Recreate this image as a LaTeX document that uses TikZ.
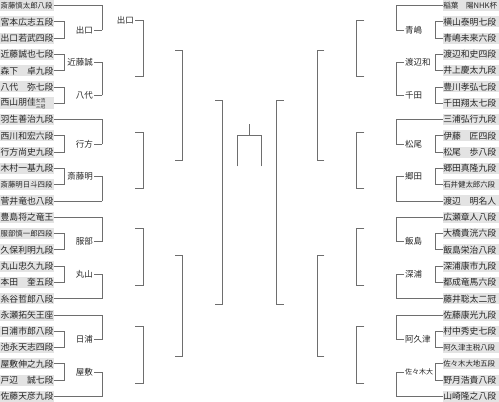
\documentclass[tikz,border=0pt]{standalone}
\usepackage{fontspec}
\setmainfont{Noto Sans CJK JP}
\usepackage{tikz}
\definecolor{plategray}{HTML}{E3E3E3}
\definecolor{linegray}{HTML}{6E6E6E}
\newcommand\twoline[2]{{\fontsize{4.8}{4.8}\selectfont
  \makebox[0pt][l]{\raisebox{3.5pt}{#1}}\raisebox{-2.6pt}{#2}}}

\tikzset{
  namebox/.style={fill=plategray, inner xsep=0.5pt, inner ysep=0.5pt,
    minimum height=11pt, align=left, text=black!85},
  wlabel/.style={inner sep=1pt, font=\fontsize{8.5}{8.5}\selectfont, text=black!85},
  bracket/.style={draw=linegray, line width=0.8pt, line cap=rect},
}

\begin{document}
\begin{tikzpicture}[x=1pt,y=-1pt,
  declare function={ry(\i)=5.5+16.29*(\i-1);}]
\useasboundingbox (0,0) rectangle (499,402);

% column positions
\coordinate (c1) at (64,0);
\coordinate (c2) at (102,0);
\coordinate (d1) at (435,0);
\coordinate (d2) at (396,0);

%-------------------------------------------------------------------
% Left half
\foreach \i/\nm/\sz in {1/斎藤慎太郎八段/7.4,2/宮本広志五段/8.8,3/出口若武四段/8.8,
  4/近藤誠也七段/8.8,5/森下　卓九段/8.8,6/八代　弥七段/8.8,7/西山朋佳\twoline{女流}{三冠}/8.8,
  8/羽生善治九段/8.8,9/西川和宏六段/8.8,10/行方尚史九段/8.8,11/木村一基九段/8.8,
  12/斎藤明日斗四段/7.4,13/菅井竜也八段/8.8,14/豊島将之竜王/8.8,15/服部慎一郎四段/7.4,
  16/久保利明九段/8.8,17/丸山忠久九段/8.8,18/本田　奎五段/8.8,19/糸谷哲郎八段/8.8,
  20/永瀬拓矢王座/8.8,21/日浦市郎八段/8.8,22/池永天志四段/8.8,23/屋敷伸之九段/8.8,
  24/戸辺　誠七段/8.8,25/佐藤天彦九段/8.8}{
  \node[namebox,text width=53pt,anchor=west,font=\fontsize{\sz}{\sz}\selectfont]
    (L\i) at (0,{ry(\i)}) {\nm};
}

% Byes straight to round 2
\foreach \i in {1,8,13,14,19,20,25}
  \draw[bracket] (L\i.east) -- (L\i.east -| c2);

% Round 1
\foreach \a/\b/\w in {2/3/出口,4/5/近藤誠,6/7/八代,9/10/行方,11/12/斎藤明,
  15/16/服部,17/18/丸山,21/22/日浦,23/24/屋敷}{
  \draw[bracket] (L\a.east) -- (L\a.east -| c1) -- (L\b.east -| c1) -- (L\b.east);
  \node[wlabel,anchor=east] (wl\a) at (94,{(ry(\a)+ry(\b))/2}) {\w};
  \draw[bracket] (wl\a.east) -- (wl\a.east -| c2);
}

% Round 2
\foreach \p/\q in {L1/wl2,wl4/wl6,L8/wl9,wl11/L13,L14/wl15,wl17/L19,L20/wl21,wl23/L25}
  \draw[bracket] (\p.east -| c2) -- (\q.east -| c2);
\node[wlabel,anchor=east] (wl1) at (135,20.7) {出口};
\draw[bracket] (wl1.east) -- (143,20.7);

% Round 3, 4, 5
\foreach \t/\u in {20.7/76.3,132/188.5,228/285,326.5/383.3}
  \draw[bracket] (135,\t) -- (143,\t) -- (143,\u) -- (135,\u);
\foreach \t/\u in {50/160,255.7/356}
  \draw[bracket] (175,\t) -- (182,\t) -- (182,\u) -- (175,\u);
\draw[bracket] (215.7,100) -- (222.7,100) -- (222.7,304) -- (215.7,304);

%-------------------------------------------------------------------
% Right half
\foreach \i/\nm/\sz in {1/稲葉　陽NHK杯/7.6,2/横山泰明七段/8.8,3/青嶋未来六段/8.8,
  4/渡辺和史四段/8.8,5/井上慶太九段/8.8,6/豊川孝弘七段/8.8,7/千田翔太七段/8.8,
  8/三浦弘行九段/8.8,9/伊藤　匠四段/8.8,10/松尾　歩八段/8.8,11/郷田真隆九段/8.8,
  12/石井健太郎六段/7.4,13/渡辺　明名人/8.8,14/広瀬章人八段/8.8,15/大橋貴洸六段/8.8,
  16/飯島栄治八段/8.8,17/深浦康市九段/8.8,18/都成竜馬六段/8.8,19/藤井聡太二冠/8.8,
  20/佐藤康光九段/8.8,21/村中秀史七段/8.8,22/阿久津主税八段/7.4,23/佐々木大地五段/7.4,
  24/野月浩貴八段/8.8,25/山崎隆之八段/8.8}{
  \node[namebox,text width=55pt,anchor=east,font=\fontsize{\sz}{\sz}\selectfont]
    (R\i) at (499,{ry(\i)}) {\nm};
}

\foreach \i in {1,8,13,14,19,20,25}
  \draw[bracket] (R\i.west) -- (R\i.west -| d2);

\foreach \a/\b/\w in {2/3/青嶋,4/5/渡辺和,6/7/千田,9/10/松尾,11/12/郷田,
  15/16/飯島,17/18/深浦,21/22/阿久津,23/24/{\fontsize{7}{7}\selectfont 佐々木大}}{
  \draw[bracket] (R\a.west) -- (R\a.west -| d1) -- (R\b.west -| d1) -- (R\b.west);
  \node[wlabel,anchor=west] (wr\a) at (404,{(ry(\a)+ry(\b))/2}) {\w};
  \draw[bracket] (wr\a.west) -- (wr\a.west -| d2);
}

\foreach \p/\q in {R1/wr2,wr4/wr6,R8/wr9,wr11/R13,R14/wr15,wr17/R19,R20/wr21,wr23/R25}
  \draw[bracket] (\p.west -| d2) -- (\q.west -| d2);

\foreach \t/\u in {20.7/76.3,132/188.5,228/285,326.5/383.3}
  \draw[bracket] (364,\t) -- (356,\t) -- (356,\u) -- (364,\u);
\foreach \t/\u in {50/160,255.7/356}
  \draw[bracket] (324,\t) -- (317,\t) -- (317,\u) -- (324,\u);
\draw[bracket] (283.3,100) -- (276.3,100) -- (276.3,304) -- (283.3,304);

%-------------------------------------------------------------------
% Final
\draw[bracket] (237.7,166) -- (237.7,135.7) -- (261.7,135.7) -- (261.7,166);
\draw[bracket] (249.7,135.7) -- (249.7,124);

\end{tikzpicture}
\end{document}
